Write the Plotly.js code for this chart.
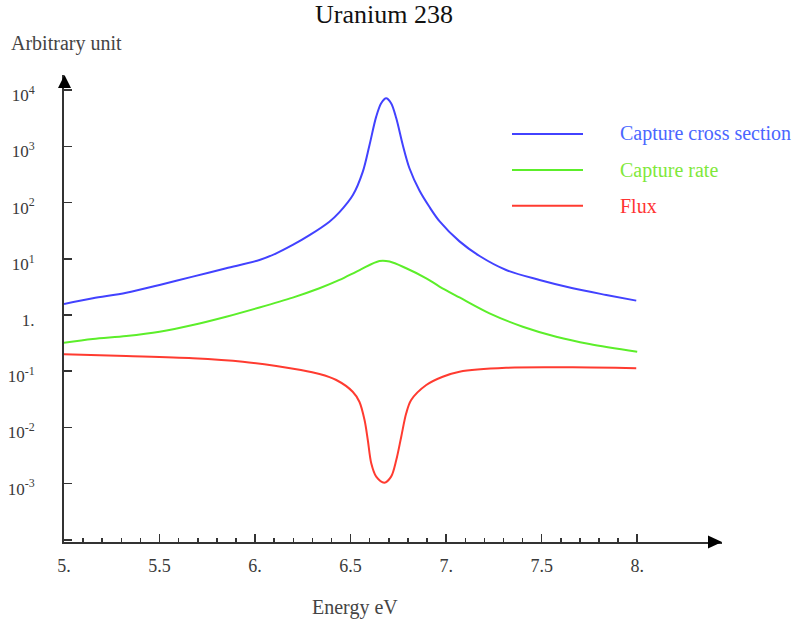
<!DOCTYPE html>
<html><head><meta charset="utf-8">
<script src="https://cdn.plot.ly/plotly-3.0.1.min.js"></script>
<style>html,body{margin:0;padding:0;background:#fff}</style>
</head><body><div id="chart" style="width:793px;height:624px"></div>
<script>
// ---- data ----
const crossEnergy = [5.00, 5.151, 5.326, 5.50, 5.674, 5.849, 6.023, 6.111, 6.197, 6.285, 6.389, 6.442, 6.512, 6.564, 6.599, 6.634, 6.660, 6.686, 6.712, 6.739, 6.773, 6.808, 6.861, 6.913, 6.965, 7.070, 7.175, 7.314, 7.489, 7.663, 7.838, 7.995];
const captureCross = [1.57, 1.98, 2.49, 3.42, 4.81, 6.78, 9.52, 12.5, 17.6, 26.3, 45.7, 67.6, 136, 355, 1060, 3380, 5850, 7180, 5850, 3160, 1060, 408, 162, 83.2, 46.8, 20.4, 11.2, 6.32, 4.20, 2.99, 2.27, 1.80];

const rateEnergy = [5.00, 5.151, 5.326, 5.50, 5.674, 5.849, 6.023, 6.197, 6.337, 6.442, 6.547, 6.651, 6.704, 6.791, 6.896, 6.965, 7.070, 7.227, 7.401, 7.576, 7.750, 8.00];
const captureRate = [0.321, 0.374, 0.423, 0.505, 0.664, 0.933, 1.36, 2.04, 2.99, 4.20, 6.31, 9.14, 8.95, 6.78, 4.50, 3.21, 2.05, 1.07, 0.619, 0.411, 0.305, 0.222];

const fluxEnergy = [5.00, 5.326, 5.674, 5.936, 6.111, 6.232, 6.337, 6.425, 6.511, 6.546, 6.573, 6.590, 6.608, 6.634, 6.677, 6.712, 6.739, 6.765, 6.791, 6.817, 6.896, 6.982, 7.070, 7.314, 7.663, 7.995];
const flux = [0.200, 0.186, 0.170, 0.148, 0.124, 0.106, 0.089, 0.0697, 0.0431, 0.0286, 0.0135, 0.00597, 0.00230, 0.00133, 0.00104, 0.00133, 0.00263, 0.00684, 0.0178, 0.0307, 0.0568, 0.0798, 0.098, 0.115, 0.117, 0.113];

const seriesNames = ['Capture cross section', 'Capture rate', 'Flux'];
const xTickVals = [5, 5.5, 6, 6.5, 7, 7.5, 8];
const xTickText = ['5.', '5.5', '6.', '6.5', '7.', '7.5', '8.'];
const yTickVals = [1e-4, 1e-3, 1e-2, 1e-1, 1, 10, 100, 1000, 10000];
const yTickText = [' ', '10<sup>-3</sup>', '10<sup>-2</sup>', '10<sup>-1</sup>', '1.', '10<sup>1</sup>', '10<sup>2</sup>', '10<sup>3</sup>', '10<sup>4</sup>'];

// ---- styling ----
const W = 793, H = 624;
const M = {l: 64, r: 71, t: 75, b: 82};
const PW = W - M.l - M.r, PH = H - M.t - M.b;
const px = x => (x - M.l) / PW;          // pixel -> paper x
const py = y => (H - M.b - y) / PH;       // pixel -> paper y
const FONT = '"Liberation Serif", "Times New Roman", serif';
const colors = ['#4242ff', '#5cee2a', '#ff3b30'];
const textColors = ['#4a66ff', '#7fe83a', '#ff3333'];
const axisColor = '#333333';

const minorVals = [];
for (let i = 50; i <= 80; i++) { if (i % 5 !== 0) minorVals.push(i / 10); }

const xs = [crossEnergy, rateEnergy, fluxEnergy];
const ys = [captureCross, captureRate, flux];
const traces = xs.map((x, i) => ({
  x: x, y: ys[i], type: 'scatter', mode: 'lines', name: seriesNames[i],
  line: {color: colors[i], width: 2, shape: 'spline', smoothing: 0.9},
  showlegend: false, hoverinfo: 'skip'
}));

const legendRows = [134, 170, 205.7];
const shapes = [
  {type: 'path', xref: 'paper', yref: 'paper', path: `M ${px(722)} ${py(542)} L ${px(708)} ${py(535.5)} L ${px(708)} ${py(548.5)} Z`, fillcolor: '#000', line: {width: 0}},
  {type: 'path', xref: 'paper', yref: 'paper', path: `M ${px(64.5)} ${py(75)} L ${px(58)} ${py(88)} L ${px(71)} ${py(88)} Z`, fillcolor: '#000', line: {width: 0}}
];
const annotations = [];
legendRows.forEach((ry, i) => {
  shapes.push({type: 'line', xref: 'paper', yref: 'paper', x0: px(512), x1: px(583), y0: py(ry), y1: py(ry), line: {color: colors[i], width: 2}});
  annotations.push({xref: 'paper', yref: 'paper', x: px(618), y: py(ry), xanchor: 'left', yanchor: 'middle', text: seriesNames[i], showarrow: false, font: {family: FONT, size: 20, color: textColors[i]}});
});
annotations.push({xref: 'paper', yref: 'paper', x: px(9), y: py(44), xanchor: 'left', yanchor: 'middle', text: 'Arbitrary unit', showarrow: false, font: {family: FONT, size: 20, color: '#444'}});
annotations.push({xref: 'paper', yref: 'paper', x: px(355), y: py(607), xanchor: 'center', yanchor: 'middle', text: 'Energy eV', showarrow: false, font: {family: FONT, size: 20, color: '#444'}});

const layout = {
  width: W, height: H, margin: M,
  paper_bgcolor: '#fff', plot_bgcolor: '#fff',
  showlegend: false,
  title: {text: 'Uranium 238', font: {family: FONT, size: 26, color: '#111'}, xref: 'container', yref: 'container', x: 384 / W, xanchor: 'center', y: 1 - 14 / H, yanchor: 'middle'},
  xaxis: {
    range: [5, 5 + PW / 191.07], showgrid: false, zeroline: false,
    showline: true, linecolor: axisColor, linewidth: 2,
    ticks: 'inside', ticklen: 8, tickwidth: 1.5, tickcolor: axisColor,
    tickmode: 'array', tickvals: xTickVals, ticktext: xTickText,
    tickfont: {family: FONT, size: 18, color: '#3a3a3a'}, ticklabelstandoff: 6,
    minor: {tickmode: 'array', tickvals: minorVals, ticks: 'inside', ticklen: 4, tickwidth: 1.5, tickcolor: axisColor, showgrid: false}
  },
  yaxis: {
    type: 'log', range: [-4.039, 4.27], showgrid: false, zeroline: false,
    showline: true, linecolor: axisColor, linewidth: 2,
    ticks: 'inside', ticklen: 8, tickwidth: 1.5, tickcolor: axisColor,
    tickmode: 'array', tickvals: yTickVals, ticktext: yTickText,
    tickfont: {family: FONT, size: 17, color: '#3a3a3a'}, ticklabelstandoff: 24, ticklabelshift: 5
  },
  shapes: shapes, annotations: annotations
};

Plotly.newPlot('chart', traces, layout, {staticPlot: true, displayModeBar: false});
</script>
</body></html>
